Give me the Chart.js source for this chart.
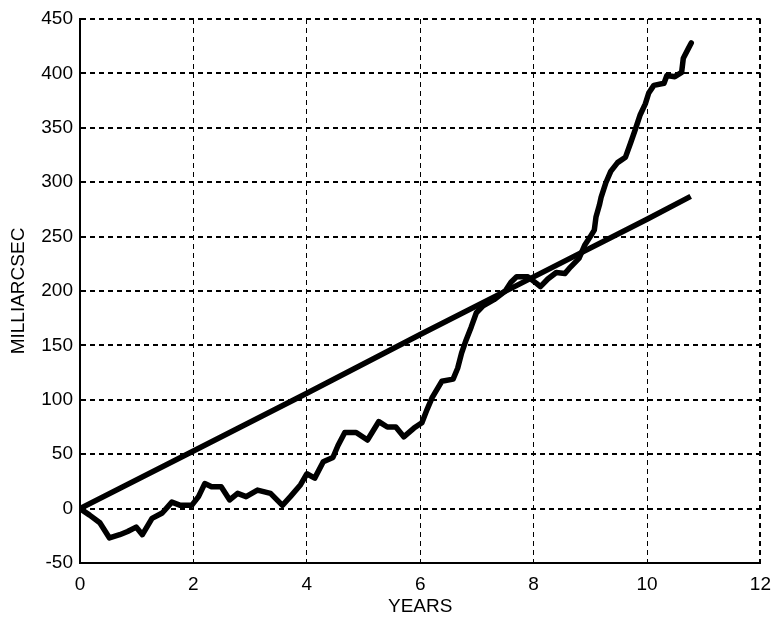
<!DOCTYPE html>
<html lang="en">
<head>
    <meta charset="UTF-8">
    <title>Milliarcsec vs Years</title>
    <script src="https://cdn.jsdelivr.net/npm/chart.js"></script>
    <style>
        html, body {
            margin: 0;
            padding: 0;
            background: #ffffff;
        }
        #wrap {
            width: 781px;
            height: 618px;
        }
    </style>
</head>
<body>
    <div id="wrap"><canvas id="chart"></canvas></div>

    <script>
        // measured curve (years, milliarcsec)
        const years = [0, 0.17, 0.35, 0.52, 0.7, 0.84, 0.99, 1.1, 1.27, 1.45, 1.62, 1.77, 1.97, 2.09, 2.2, 2.32, 2.49, 2.64, 2.78, 2.93,
            3.13, 3.36, 3.57, 3.71, 3.89, 4.0, 4.14, 4.29, 4.46, 4.55, 4.67, 4.87, 5.07, 5.27, 5.42, 5.57, 5.71, 5.89, 6.03, 6.12,
            6.21, 6.38, 6.58, 6.66, 6.73, 6.81, 6.9, 6.99, 7.1, 7.3, 7.5, 7.6, 7.7, 7.9, 8.05, 8.12, 8.25, 8.4, 8.55, 8.65,
            8.8, 8.9, 9.0, 9.07, 9.1, 9.16, 9.19, 9.27, 9.36, 9.48, 9.62, 9.71, 9.79, 9.88, 9.97, 10.03, 10.12, 10.3, 10.35, 10.49,
            10.61, 10.64, 10.73, 10.78];
        const milliarcsec = [0, -6, -13, -27, -24, -21, -17, -24, -9, -4, 6, 3, 3, 11, 23, 20, 20, 8, 14, 11,
            17, 14, 3, 11, 22, 32, 28, 43, 47, 58, 70, 70, 63, 80, 75, 75, 66, 74, 79, 91,
            102, 117, 119, 129, 143, 155, 167, 180, 186, 192, 200, 208, 213, 213, 207, 204, 211, 217, 216, 222,
            230, 242, 250, 256, 268, 279, 286, 299, 310, 318, 323, 336, 348, 362, 372, 382, 389, 391, 398, 397,
            401, 414, 423, 428];

        // straight fitted line
        const fitYears = [0, 2, 4, 6, 8, 10, 10.77];
        const fitValues = [0, 53, 106, 160, 213, 266, 287];

        const xTicks = [0, 2, 4, 6, 8, 10, 12];
        const yTicks = [-50, 0, 50, 100, 150, 200, 250, 300, 350, 400, 450];

        const toPoints = (xs, ys) => xs.map((x, i) => ({ x: x, y: ys[i] }));

        const tickFont = { family: "'Liberation Sans', Arial, sans-serif", size: 19 };
        const titleFont = { family: "'Liberation Sans', Arial, sans-serif", size: 19 };

        new Chart(document.getElementById("chart"), {
            type: "scatter",
            data: {
                datasets: [
                    {
                        label: "fit",
                        data: toPoints(fitYears, fitValues),
                        showLine: true,
                        borderColor: "#000000",
                        backgroundColor: "#000000",
                        borderWidth: 5.5,
                        pointRadius: 0
                    },
                    {
                        label: "observed",
                        data: toPoints(years, milliarcsec),
                        showLine: true,
                        borderColor: "#000000",
                        backgroundColor: "#000000",
                        borderWidth: 5.5,
                        pointRadius: 0,
                        borderJoinStyle: "round",
                        borderCapStyle: "round"
                    }
                ]
            },
            options: {
                responsive: true,
                maintainAspectRatio: false,
                animation: false,
                layout: { padding: { top: 19, right: 10, left: 0, bottom: 0 } },
                plugins: {
                    legend: { display: false },
                    tooltip: { enabled: false }
                },
                scales: {
                    x: {
                        type: "linear",
                        min: 0,
                        max: 12,
                        afterBuildTicks: s => { s.ticks = xTicks.map(v => ({ value: v })); },
                        afterFit: s => { s.height = 55; },
                        grid: {
                            color: "#000000",
                            lineWidth: c => (c.tick && c.tick.value === 12 ? 2 : 1),
                            drawTicks: false
                        },
                        border: { display: true, color: "#000000", width: 2, dash: [5, 4] },
                        ticks: { color: "#000000", font: tickFont, padding: 10, maxRotation: 0 },
                        title: { display: true, text: "YEARS", color: "#000000", font: titleFont, padding: { top: 0, bottom: 0 } }
                    },
                    y: {
                        type: "linear",
                        min: -50,
                        max: 450,
                        afterBuildTicks: s => { s.ticks = yTicks.map(v => ({ value: v })); },
                        afterFit: s => { s.width = 80; },
                        grid: {
                            color: "#000000",
                            lineWidth: 2,
                            drawTicks: false
                        },
                        border: { display: true, color: "#000000", width: 2, dash: [5, 4] },
                        ticks: { color: "#000000", font: tickFont, padding: 7 },
                        title: { display: true, text: "MILLIARCSEC", color: "#000000", font: titleFont, padding: { top: 7, bottom: 0 } }
                    }
                }
            }
        });
    </script>
</body>
</html>
